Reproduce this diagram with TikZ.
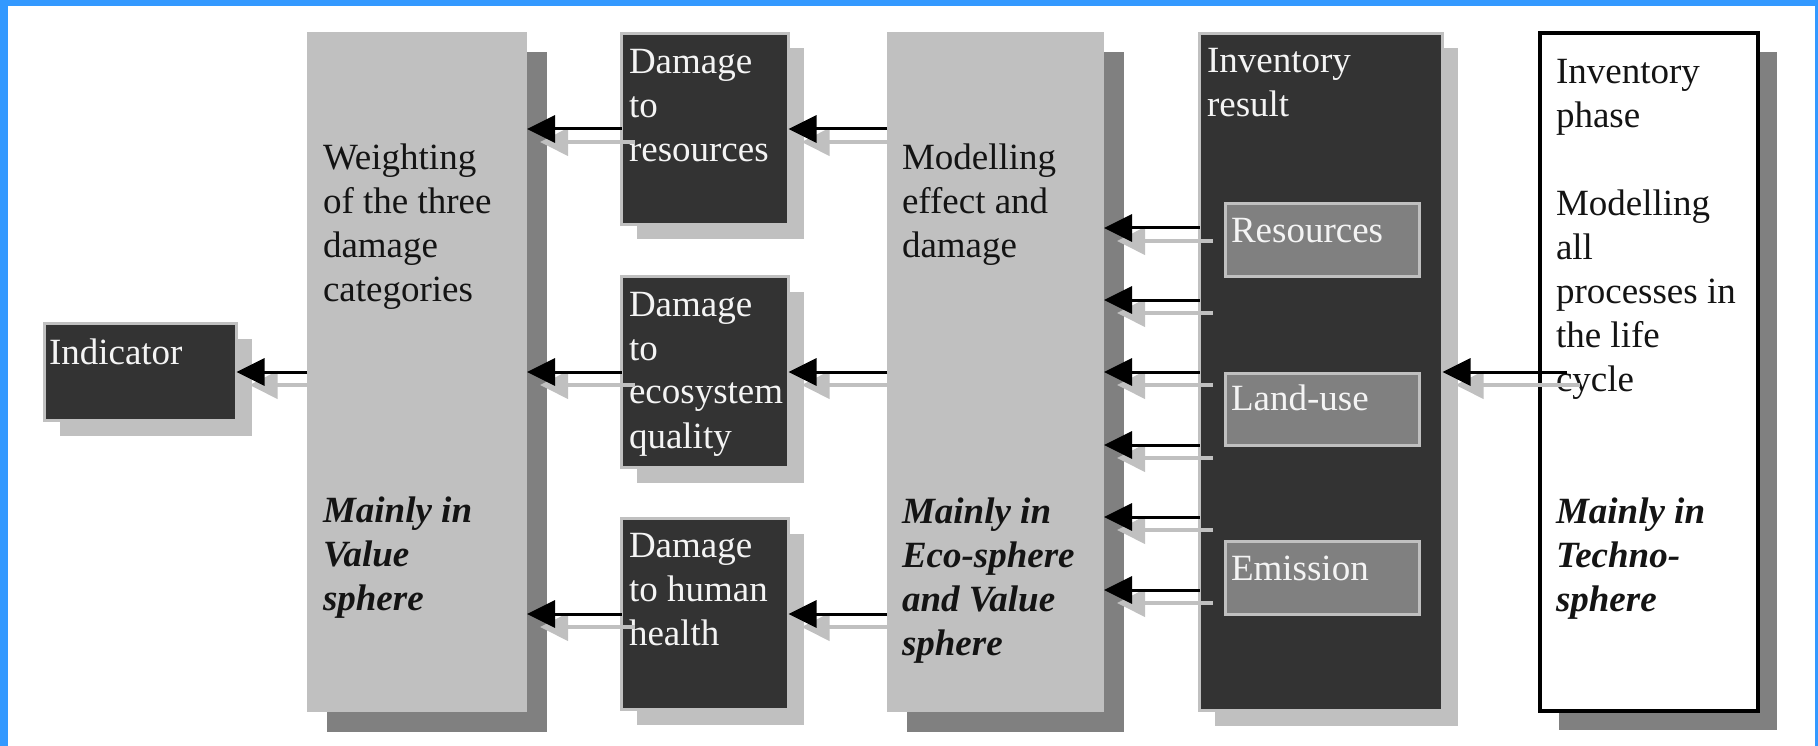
\documentclass[tikz,border=0pt]{standalone}
\usepackage{fontspec}
\setmainfont{Liberation Serif}
\usetikzlibrary{arrows.meta,shadows}
\definecolor{silverc}{HTML}{C0C0C0}
\definecolor{dgrayc}{HTML}{808080}
\definecolor{darkc}{HTML}{333333}
\definecolor{framec}{HTML}{3399FF}
\definecolor{whitetxt}{HTML}{F4F4F4}
\definecolor{blacktxt}{HTML}{141414}
\begin{document}
\begin{tikzpicture}[x=1pt,y=-1pt,
  box/.style={rectangle, inner sep=0pt, outer sep=0pt},
  lightbox/.style={box, fill=silverc,
    drop shadow={shadow xshift=20pt,shadow yshift=-20pt,fill=dgrayc,opacity=1}},
  darkbox/.style={box, fill=darkc, draw=silverc, line width=3pt,
    drop shadow={shadow xshift=15pt,shadow yshift=-15pt,fill=silverc,opacity=1}},
  innerbox/.style={box, fill=dgrayc, draw=silverc, line width=3pt},
  phasebox/.style={box, fill=white, draw=black, line width=3.5pt,
    drop shadow={shadow xshift=19pt,shadow yshift=-19pt,fill=dgrayc,opacity=1}},
  txt/.style={anchor=base west, inner sep=0pt, outer sep=0pt,
    font=\fontsize{37pt}{44pt}\selectfont},
  wtxt/.style={txt, text=whitetxt},
  btxt/.style={txt, text=blacktxt},
  arr/.style={line width=3pt, draw=black, -{Triangle[length=28pt,width=27pt]}},
  sarr/.style={line width=4pt, draw=silverc, -{Triangle[length=28pt,width=27pt]},
    transform canvas={shift={(13pt,-13pt)}}}
]
\useasboundingbox (0,0) rectangle (1818,746);
\fill[white] (0,0) rectangle (1818,746);
% frame
\fill[framec] (0,0) rectangle (1818,6);
\fill[framec] (0,0) rectangle (8,746);
\fill[framec] (1815,0) rectangle (1818,746);

% boxes
\node[darkbox, minimum width=192pt, minimum height=97pt] (ind) at (140.5,372) {};
\node[lightbox, minimum width=220pt, minimum height=680pt] (weight) at (417,372) {};
\node[darkbox, minimum width=167pt, minimum height=191pt] (dres) at (705,129) {};
\node[darkbox, minimum width=167pt, minimum height=191pt] (deco) at (705,372) {};
\node[darkbox, minimum width=167pt, minimum height=191pt] (dhh) at (705,614) {};
\node[lightbox, minimum width=217pt, minimum height=680pt] (model) at (995.5,372) {};
\node[darkbox, minimum width=243pt, minimum height=677pt] (invres) at (1321,372) {};
\node[innerbox, minimum width=194pt, minimum height=73pt] (ires) at (1322.5,240) {};
\node[innerbox, minimum width=194pt, minimum height=72pt] (iland) at (1322.5,409.5) {};
\node[innerbox, minimum width=194pt, minimum height=73pt] (iemis) at (1322.5,578) {};
\node[phasebox, minimum width=218pt, minimum height=678pt] (phase) at (1649,372) {};

% texts
\node[wtxt] (tind) at (49,364) {Indicator};
\node[btxt] (tweight) at (323,170) {\parbox[t]{200pt}{Weighting\\of the three\\damage\\categories}};
\node[btxt] (tweightb) at (323,522) {\parbox[t]{200pt}{\bfseries\itshape Mainly in\\Value\\sphere}};
\node[wtxt] (tdres) at (629,74) {\parbox[t]{165pt}{Damage\\to\\resources}};
\node[wtxt] (tdeco) at (629,316) {\parbox[t]{165pt}{Damage\\to\\ecosystem\\quality}};
\node[wtxt] (tdhh) at (629,557) {\parbox[t]{165pt}{Damage\\to human\\health}};
\node[btxt] (tmodel) at (902,170) {\parbox[t]{200pt}{Modelling\\effect and\\damage}};
\node[btxt] (tmodelb) at (902,523) {\parbox[t]{200pt}{\bfseries\itshape Mainly in\\Eco-sphere\\and Value\\sphere}};
\node[wtxt] (tinvres) at (1207,73) {\parbox[t]{230pt}{Inventory\\result}};
\node[wtxt] (tires) at (1231,243) {Resources};
\node[wtxt] (tiland) at (1231,410) {Land-use};
\node[wtxt] (tiemis) at (1231,580) {Emission};
\node[btxt] (tphase) at (1556,84) {\parbox[t]{200pt}{Inventory\\phase\\[44pt]Modelling\\all\\processes in\\the life\\cycle}};
\node[btxt] (tphaseb) at (1556,523) {\parbox[t]{200pt}{\bfseries\itshape Mainly in\\Techno-\\sphere}};

% connector coordinates
\coordinate (i1) at ([yshift=144pt]invres.west);
\coordinate (i2) at ([yshift=72pt]invres.west);
\coordinate (i3) at (invres.west);
\coordinate (i4) at ([yshift=-73pt]invres.west);
\coordinate (i5) at ([yshift=-145pt]invres.west);
\coordinate (i6) at ([yshift=-218pt]invres.west);
\coordinate (p0) at ([xshift=27pt]phase.west);

% shadow arrows
\foreach \s/\t in {weight.west/ind.east} \draw[sarr] (\s) -- (\t);
\foreach \s in {dres,deco,dhh} {
  \draw[sarr] (\s.west) -- (weight.east |- \s.west);
  \draw[sarr] (model.west |- \s.east) -- (\s.east);
}
\foreach \c in {i1,i2,i3,i4,i5,i6} \draw[sarr] (\c) -- (model.east |- \c);
\draw[sarr] (p0) -- (invres.east |- p0);

% black arrows
\draw[arr] (weight.west) -- (ind.east);
\foreach \s in {dres,deco,dhh} {
  \draw[arr] (\s.west) -- (weight.east |- \s.west);
  \draw[arr] (model.west |- \s.east) -- (\s.east);
}
\foreach \c in {i1,i2,i3,i4,i5,i6} \draw[arr] (\c) -- (model.east |- \c);
\draw[arr] (p0) -- (invres.east |- p0);
\end{tikzpicture}
\end{document}
